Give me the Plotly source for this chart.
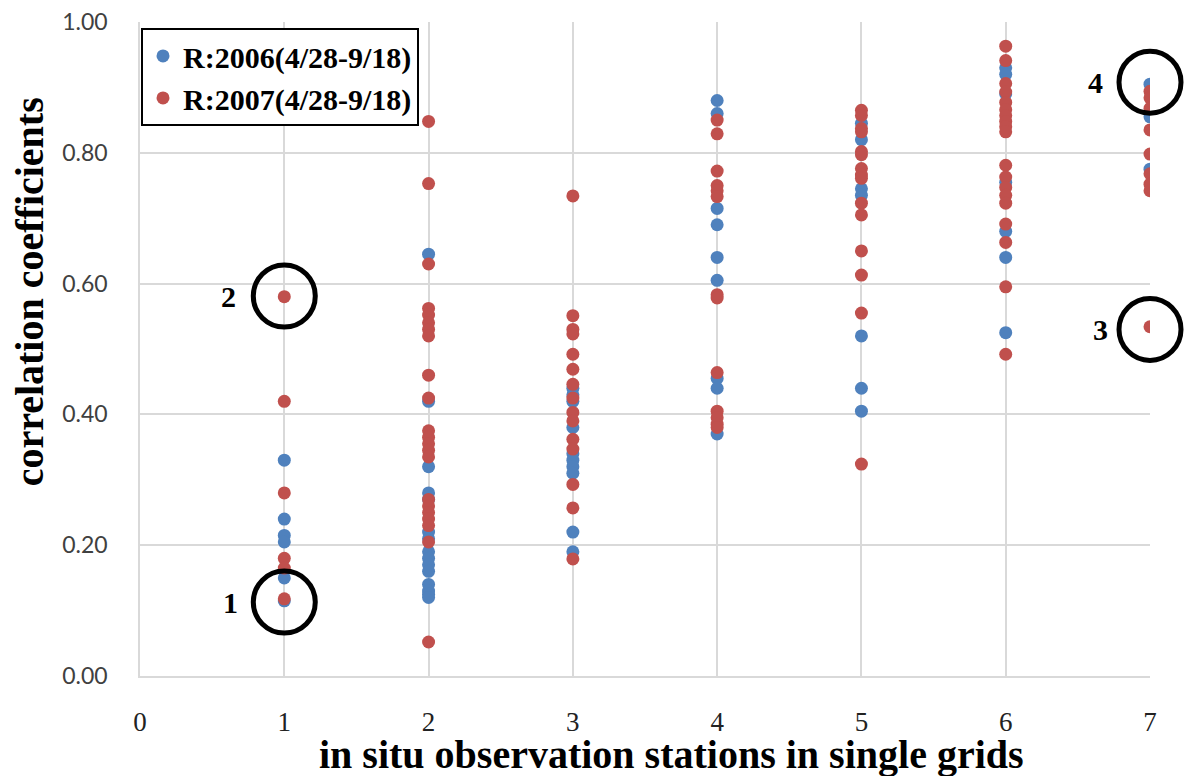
import plotly.graph_objects as go

# Correlation coefficients by number of in situ stations in a grid
# 2006 series (blue)
r2006 = {
    1: [0.33, 0.24, 0.215, 0.205, 0.15, 0.115],
    2: [0.645, 0.42, 0.32, 0.28, 0.27, 0.22, 0.21, 0.19, 0.18, 0.17, 0.16, 0.14, 0.13, 0.125, 0.12],
    3: [0.44, 0.43, 0.42, 0.38, 0.34, 0.33, 0.32, 0.31, 0.22, 0.19],
    4: [0.88, 0.86, 0.715, 0.69, 0.64, 0.605, 0.455, 0.44, 0.37],
    5: [0.845, 0.82, 0.745, 0.735, 0.52, 0.44, 0.405],
    6: [0.93, 0.92, 0.89, 0.755, 0.68, 0.64, 0.525],
    7: [0.905, 0.86, 0.855, 0.775],
}
# 2007 series (red)
r2007 = {
    1: [0.58, 0.42, 0.28, 0.18, 0.165, 0.118],
    2: [0.848, 0.753, 0.63, 0.562, 0.552, 0.54, 0.53, 0.52, 0.46, 0.425, 0.375, 0.365, 0.355,
        0.345, 0.335, 0.27, 0.26, 0.25, 0.24, 0.23, 0.205, 0.052],
    3: [0.734, 0.551, 0.53, 0.523, 0.492, 0.469, 0.446, 0.425, 0.403, 0.39, 0.362, 0.347,
        0.293, 0.257, 0.179],
    4: [0.85, 0.829, 0.772, 0.75, 0.742, 0.733, 0.583, 0.578, 0.464, 0.405, 0.395, 0.385, 0.38],
    5: [0.865, 0.857, 0.837, 0.832, 0.802, 0.797, 0.776, 0.766, 0.761, 0.723, 0.705, 0.65,
        0.613, 0.555, 0.324],
    6: [0.963, 0.941, 0.906, 0.893, 0.877, 0.866, 0.857, 0.848, 0.84, 0.832, 0.781, 0.763,
        0.747, 0.735, 0.723, 0.691, 0.663, 0.595, 0.492],
    7: [0.894, 0.884, 0.868, 0.835, 0.798, 0.768, 0.752, 0.742, 0.534],
}
series_names = ["R:2006(4/28-9/18)", "R:2007(4/28-9/18)"]
series_colors = ["#4F81BD", "#C0504D"]
x_ticks = [0, 1, 2, 3, 4, 5, 6, 7]
y_ticks = [0.0, 0.2, 0.4, 0.6, 0.8, 1.0]
x_range = [0, 7]
y_range = [0, 1]

# highlighted points: (label, station count, coefficient, label shift px)
highlights = [("1", 1, 0.113, -54), ("2", 1, 0.581, -56), ("3", 7, 0.53, -50), ("4", 7, 0.908, -55)]

SERIF = "Liberation Serif, Times New Roman, serif"

fig = go.Figure()
for name, color, data in zip(series_names, series_colors, [r2006, r2007]):
    xs, ys = [], []
    for k, vals in data.items():
        xs += [k] * len(vals)
        ys += vals
    fig.add_trace(go.Scatter(
        x=xs, y=ys, mode="markers", name=f"<b>{name}</b>", legendgroup=name,
        marker=dict(color=color, size=13, line=dict(width=0)),
    ))

for lab, xv, yv, sh in highlights:
    # paper-referenced so the ring is not clipped at the plot edge
    px = (xv - x_range[0]) / (x_range[1] - x_range[0])
    py = (yv - y_range[0]) / (y_range[1] - y_range[0])
    fig.add_shape(type="circle", xref="paper", yref="paper", xsizemode="pixel", ysizemode="pixel",
                  xanchor=px, yanchor=py, x0=-31, x1=31, y0=-31, y1=31,
                  line=dict(color="black", width=5), layer="above")
    fig.add_annotation(x=xv, y=yv, xref="x", yref="y", text=f"<b>{lab}</b>", showarrow=False,
                       xshift=sh, font=dict(family=SERIF, size=30, color="black"),
                       xanchor="center", yanchor="middle")

fig.add_annotation(text="<b>in situ observation stations in single grids</b>", xref="paper", yref="paper",
                   x=0.526, y=-0.12, xanchor="center", yanchor="middle", showarrow=False,
                   font=dict(family=SERIF, size=40, color="black"))
fig.add_annotation(text="<b>correlation coefficients</b>", xref="paper", yref="paper",
                   x=-0.109, y=0.588, xanchor="center", yanchor="middle", showarrow=False,
                   textangle=-90, font=dict(family=SERIF, size=40, color="black"))

fig.update_layout(
    width=1187, height=776,
    margin=dict(l=140, r=37, t=22, b=100),
    paper_bgcolor="white", plot_bgcolor="white",
    showlegend=True,
    legend=dict(x=0.001, y=0.991, xanchor="left", yanchor="top",
                bgcolor="white", bordercolor="black", borderwidth=2,
                font=dict(family=SERIF, size=30, color="black"),
                traceorder="grouped", tracegroupgap=0),
    xaxis=dict(range=x_range, tickvals=x_ticks, ticktext=[str(v) for v in x_ticks],
               automargin=False,
               showgrid=True, gridcolor="#D9D9D9", gridwidth=1.5,
               zeroline=False, showline=True, linecolor="#D9D9D9", linewidth=1.5,
               ticks="", ticklabelstandoff=21,
               tickfont=dict(family=SERIF, size=27, color="#222222")),
    yaxis=dict(range=y_range, tickvals=y_ticks, tickformat=".2f",
               automargin=False,
               showgrid=True, gridcolor="#D9D9D9", gridwidth=1.5,
               zeroline=False, showline=True, linecolor="#D9D9D9", linewidth=1.5,
               ticks="", ticklabelstandoff=26,
               tickfont=dict(family="Lato, Open Sans, sans-serif", size=23, color="#404040")),
)

fig.write_html("out.html")
